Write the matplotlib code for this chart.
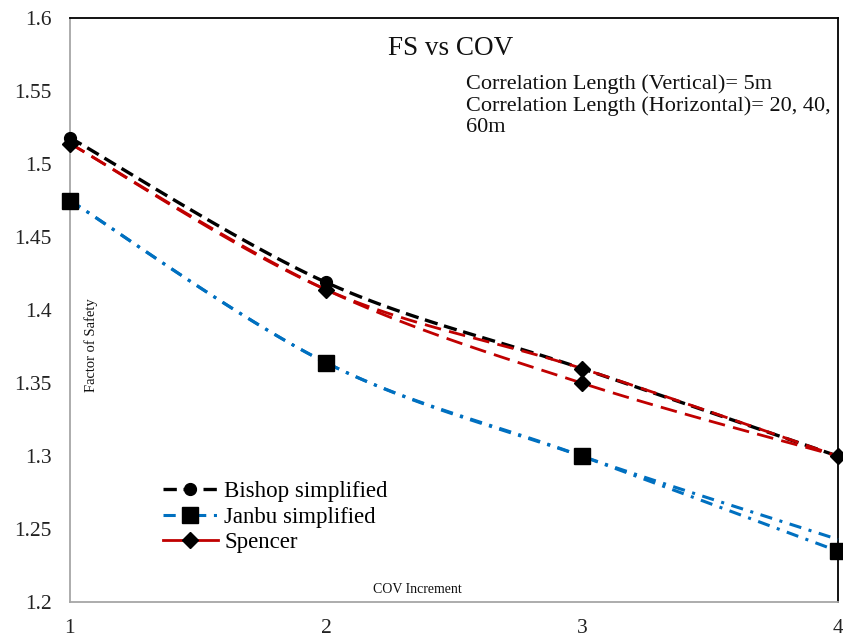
import numpy as np
import matplotlib.pyplot as plt
from matplotlib.lines import Line2D

# data
cov = [1, 2, 3, 4]
bishop = [1.518, 1.419, 1.360, 1.300]
janbu = [1.475, 1.364, 1.300, 1.235]
janbu_b = [1.475, 1.364, 1.300, 1.243]
spencer = [1.514, 1.414, 1.360, 1.300]
spencer_b = [1.514, 1.414, 1.350, 1.300]

BLACK = "#000000"
BLUE = "#0070C0"
RED = "#C00000"

plt.rcParams['font.family'] = ['Liberation Serif', 'DejaVu Serif']


def smooth(x, y, n=40):
    # bezier curve through the points, like a spreadsheet "smoothed line"
    x = np.asarray(x, float)
    y = np.asarray(y, float)
    px = np.concatenate([[x[0]], x, [x[-1]]])
    py = np.concatenate([[y[0]], y, [y[-1]]])
    xs, ys = [], []
    t = np.linspace(0, 1, n)
    for i in range(1, len(px) - 2):
        p0 = np.array([px[i], py[i]])
        p3 = np.array([px[i + 1], py[i + 1]])
        p1 = p0 + (np.array([px[i + 1], py[i + 1]]) - np.array([px[i - 1], py[i - 1]])) / 6
        p2 = p3 - (np.array([px[i + 2], py[i + 2]]) - np.array([px[i], py[i]])) / 6
        b = ((1 - t) ** 3)[:, None] * p0 + (3 * (1 - t) ** 2 * t)[:, None] * p1 \
            + (3 * (1 - t) * t ** 2)[:, None] * p2 + (t ** 3)[:, None] * p3
        xs.extend(b[:, 0])
        ys.extend(b[:, 1])
    return np.array(xs), np.array(ys)


fig = plt.figure(figsize=(8.43, 6.40), dpi=100)
ax = fig.add_axes([0.083, 0.059, 0.911, 0.913])

def curve(y, color, ls, lw, z):
    sx, sy = smooth(cov, y)
    ax.plot(sx, sy, color=color, linestyle=ls, linewidth=lw, zorder=z,
            solid_capstyle='butt', dash_capstyle='butt', clip_on=False)

BISHOP_LS = (0, (4, 2))
SPENCER_LS = (0, (6, 3))
JANBU_LS = (0, (4, 2.5, 1, 2.5))

curve(bishop, BLACK, BISHOP_LS, 2.4, 3)
curve(spencer, RED, SPENCER_LS, 2.0, 4)
curve(spencer_b, RED, SPENCER_LS, 2.0, 4)
curve(janbu, BLUE, JANBU_LS, 2.2, 3)
curve(janbu_b, BLUE, JANBU_LS, 2.2, 3)

ax.plot(cov[:2], bishop[:2], 'o', color=BLACK, markersize=8.5, zorder=6, clip_on=False)
ax.plot(cov, spencer, 'D', color=BLACK, markersize=8.5, zorder=6, clip_on=False)
ax.plot(cov[2:3], spencer_b[2:3], 'D', color=BLACK, markersize=8.5, zorder=6, clip_on=False)
ax.plot(cov, janbu, 's', color=BLACK, markersize=11.5, zorder=6, clip_on=False)

ax.set_xlim(1, 4)
ax.set_ylim(1.2, 1.6)
ax.set_xticks([1, 2, 3, 4])
ax.set_xticklabels(['1', '2', '3', '4'])
ax.set_yticks([1.2, 1.25, 1.3, 1.35, 1.4, 1.45, 1.5, 1.55, 1.6])
ax.set_yticklabels(['1.2', '1.25', '1.3', '1.35', '1.4', '1.45', '1.5', '1.55', '1.6'])
ax.tick_params(length=0, labelsize=15.5, colors='#222222')
ax.tick_params(axis='x', pad=12)
ax.tick_params(axis='y', pad=13)

ax.spines['left'].set_color('#A6A6A6')
ax.spines['bottom'].set_color('#A6A6A6')
ax.spines['top'].set_color(BLACK)
ax.spines['right'].set_color(BLACK)
for s in ax.spines.values():
    s.set_linewidth(1.3)

ax.text(0.496, 0.947, 'FS vs COV', transform=ax.transAxes, ha='center', va='center',
        fontsize=19.5, color='#111111')
ax.text(0.516, 0.903, 'Correlation Length (Vertical)= 5m\nCorrelation Length (Horizontal)= 20, 40,\n60m',
        transform=ax.transAxes, ha='left', va='top', fontsize=16, linespacing=1.13,
        color='#111111')
ax.text(0.453, 0.021, 'COV Increment', transform=ax.transAxes, ha='center', va='center',
        fontsize=10, color='#111111')
ax.text(0.027, 0.44, 'Factor of Safety', transform=ax.transAxes, ha='center', va='center',
        rotation=90, fontsize=10.5, color='#111111')

handles = [
    Line2D([], [], color=BLACK, linestyle=BISHOP_LS, linewidth=2.4, marker='o', markersize=8.5),
    Line2D([], [], color=BLUE, linestyle=JANBU_LS, linewidth=2.2, marker='s',
           markersize=11.5, markerfacecolor=BLACK, markeredgecolor=BLACK),
    Line2D([], [], color=RED, linestyle='-', linewidth=2.0, marker='D', markersize=8.5,
           markerfacecolor=BLACK, markeredgecolor=BLACK),
]
ax.legend(handles, ['Bishop simplified', 'Janbu simplified', 'Spencer'],
          loc='lower left', bbox_to_anchor=(0.121, 0.084), frameon=False, fontsize=16.5,
          handlelength=2.4, handletextpad=0.28, labelspacing=0.2, borderaxespad=0,
          borderpad=0)

fig.savefig('out.png', dpi=100)
